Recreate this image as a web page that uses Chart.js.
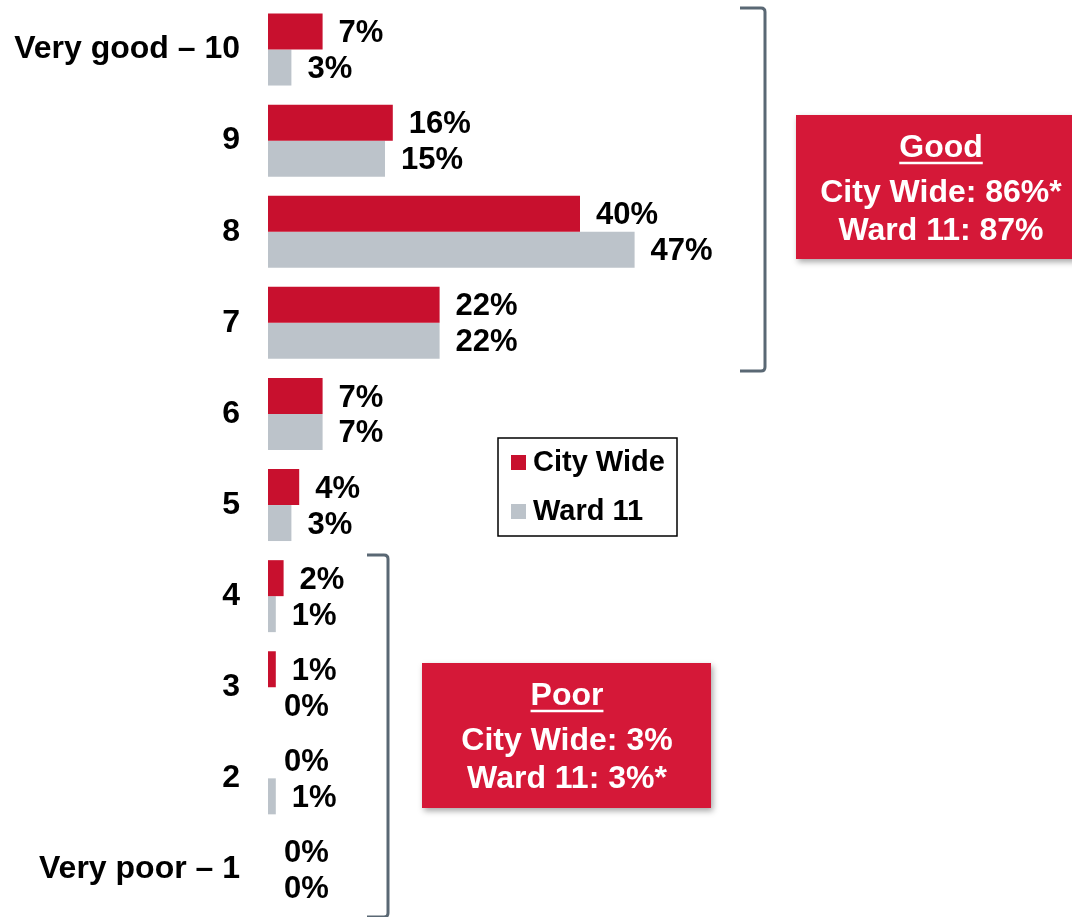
<!DOCTYPE html>
<html>
<head>
<meta charset="utf-8">
<script src="https://cdn.jsdelivr.net/npm/chart.js@4/dist/chart.umd.min.js"></script>
<style>
  html, body { margin: 0; padding: 0; background: #fff; }
  #wrap { width: 1072px; height: 917px; position: relative; }
</style>
</head>
<body>
<div id="wrap"><canvas id="ratingChart"></canvas></div>
<script>
const categories = ['Very good \u2013 10', '9', '8', '7', '6', '5', '4', '3', '2', 'Very poor \u2013 1'];
const cityWide = [7, 16, 40, 22, 7, 4, 2, 1, 0, 0];
const ward11 = [3, 15, 47, 22, 7, 3, 1, 0, 1, 0];
const seriesNames = ['City Wide', 'Ward 11'];
const goodBox = ['Good', 'City Wide: 86%*', 'Ward 11: 87%'];
const poorBox = ['Poor', 'City Wide: 3%', 'Ward 11: 3%*'];

const RED = '#C8102E';
const GRAY = '#BCC3CA';
const BOX_RED = '#D51838';
const FONT = '"Liberation Sans", Arial, sans-serif';

// value labels to the right of each bar
const valueLabels = {
    id: 'valueLabels',
    afterDatasetsDraw(chart) {
        const ctx = chart.ctx;
        ctx.save();
        ctx.font = 'bold 31px ' + FONT;
        ctx.fillStyle = '#000';
        ctx.textAlign = 'left';
        ctx.textBaseline = 'middle';
        chart.data.datasets.forEach((ds, i) => {
            chart.getDatasetMeta(i).data.forEach((bar, j) => {
                ctx.fillText(ds.data[j] + '%', bar.x + 16, bar.y + 2);
            });
        });
        ctx.restore();
    }
};

function bracket(ctx, x, y1, y2, hook) {
    ctx.beginPath();
    ctx.moveTo(x - hook, y1);
    ctx.lineTo(x - 4, y1);
    ctx.quadraticCurveTo(x, y1, x, y1 + 4);
    ctx.lineTo(x, y2 - 4);
    ctx.quadraticCurveTo(x, y2, x - 4, y2);
    ctx.lineTo(x - hook, y2);
    ctx.stroke();
}

function summaryBox(ctx, x, y, w, h, lines, cx) {
    ctx.save();
    ctx.shadowColor = 'rgba(0,0,0,0.35)';
    ctx.shadowBlur = 6;
    ctx.shadowOffsetX = 2;
    ctx.shadowOffsetY = 3;
    ctx.fillStyle = BOX_RED;
    ctx.fillRect(x, y, w, h);
    ctx.restore();

    ctx.save();
    ctx.fillStyle = '#fff';
    ctx.strokeStyle = '#fff';
    ctx.font = 'bold 32px ' + FONT;
    ctx.textAlign = 'center';
    ctx.textBaseline = 'middle';
    const ys = [y + 33, y + 78, y + 116];
    lines.forEach((t, i) => ctx.fillText(t, cx, ys[i]));
    const tw = ctx.measureText(lines[0]).width;
    ctx.lineWidth = 2.5;
    ctx.beginPath();
    ctx.moveTo(cx - tw / 2, y + 48);
    ctx.lineTo(cx + tw / 2, y + 48);
    ctx.stroke();
    ctx.restore();
}

const overlays = {
    id: 'overlays',
    afterDraw(chart) {
        const ctx = chart.ctx;
        ctx.save();
        ctx.strokeStyle = '#5A6874';
        ctx.lineWidth = 3;
        bracket(ctx, 765, 8, 371, 25);
        bracket(ctx, 388, 555, 917, 21);
        ctx.restore();

        summaryBox(ctx, 796, 115, 280, 144, goodBox, 941);
        summaryBox(ctx, 422, 663, 289, 145, poorBox, 567);

        // legend
        ctx.save();
        ctx.fillStyle = '#fff';
        ctx.fillRect(498, 438, 179, 98);
        ctx.strokeStyle = '#000';
        ctx.lineWidth = 1.5;
        ctx.strokeRect(498, 438, 179, 98);
        ctx.font = 'bold 29px ' + FONT;
        ctx.textAlign = 'left';
        ctx.textBaseline = 'middle';
        const rows = [462, 511];
        chart.data.datasets.forEach((ds, i) => {
            ctx.fillStyle = ds.backgroundColor;
            ctx.fillRect(511, rows[i] - 7, 15, 15);
            ctx.fillStyle = '#000';
            ctx.fillText(ds.label, 533, rows[i] + 1);
        });
        ctx.restore();
    }
};

new Chart(document.getElementById('ratingChart'), {
    type: 'bar',
    data: {
        labels: categories,
        datasets: [
            { label: seriesNames[0], data: cityWide, backgroundColor: RED },
            { label: seriesNames[1], data: ward11, backgroundColor: GRAY }
        ]
    },
    options: {
        indexAxis: 'y',
        responsive: true,
        maintainAspectRatio: false,
        animation: false,
        datasets: {
            bar: { categoryPercentage: 0.79, barPercentage: 1.0 }
        },
        layout: { padding: { top: 4, bottom: 2, right: 24, left: 0 } },
        plugins: {
            legend: { display: false },
            tooltip: { enabled: false }
        },
        scales: {
            x: { display: false, min: 0, max: 100 },
            y: {
                grid: { display: false, drawTicks: false },
                border: { display: false },
                ticks: {
                    color: '#000',
                    padding: 28,
                    font: { family: FONT, size: 32, weight: 'bold' }
                },
                afterFit(scale) {
                    scale.width = 268;
                    scale.paddingTop = 0;
                    scale.paddingBottom = 0;
                }
            }
        }
    },
    plugins: [valueLabels, overlays]
});
</script>
</body>
</html>
